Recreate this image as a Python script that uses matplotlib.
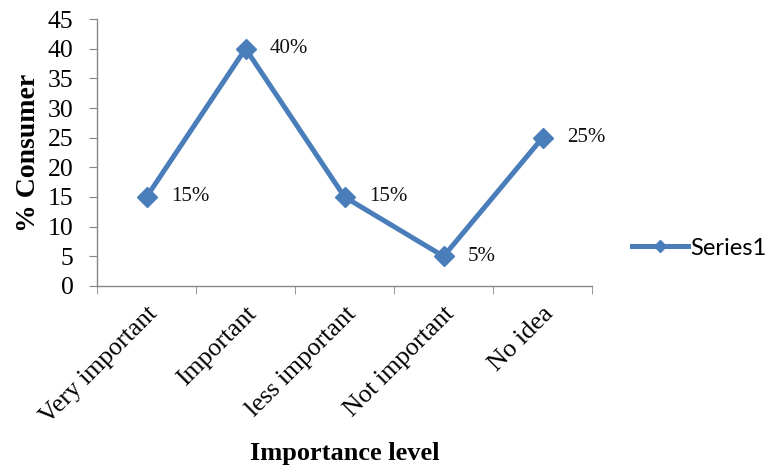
import matplotlib
matplotlib.use("Agg")
import matplotlib.pyplot as plt
from matplotlib.ticker import FixedLocator, MultipleLocator

categories = ["Very important", "Important", "less important", "Not important", "No idea"]
consumer_pct = [15, 40, 15, 5, 25]
value_labels = ["15%", "40%", "15%", "5%", "25%"]
series_name = "Series1"

line_color = "#4A7EBB"
axis_color = "#868686"
serif = ["Liberation Serif", "DejaVu Serif"]

fig = plt.figure(figsize=(7.7, 4.67), dpi=100)
ax = fig.add_axes([0.126, 0.3876, 0.643, 0.5717])

x = list(range(len(categories)))
ax.plot(x, consumer_pct, color=line_color, lw=3.6, marker="D", ms=10.5,
        mec=line_color, mfc=line_color, label=series_name)

for xi, yi, lab in zip(x, consumer_pct, value_labels):
    ax.annotate(lab, (xi, yi), xytext=(17.5, 0), textcoords="offset points",
                va="center", ha="left", fontsize=15, family=serif, color="#111111")

ax.set_xlim(-0.5, len(categories) - 0.5)
ax.set_ylim(0, 45)
ax.yaxis.set_major_locator(MultipleLocator(5))
ax.set_xticks(x)
ax.set_xticklabels(categories, rotation=45, ha="right", rotation_mode="anchor",
                   family=serif, fontsize=18.5)
ax.xaxis.set_minor_locator(FixedLocator([i - 0.5 for i in range(len(categories) + 1)]))
ax.tick_params(axis="x", which="major", length=0, pad=12)
ax.tick_params(axis="x", which="minor", length=6, direction="out", color=axis_color)
ax.tick_params(axis="y", length=6, direction="out", color=axis_color, pad=11)
for t in ax.get_yticklabels():
    t.set_family(serif)
    t.set_fontsize(18.5)

for side in ("top", "right"):
    ax.spines[side].set_visible(False)
for side in ("left", "bottom"):
    ax.spines[side].set_color(axis_color)
    ax.spines[side].set_linewidth(1.0)

ax.set_ylabel("% Consumer", family=serif, fontsize=20, fontweight="bold", labelpad=4.5)
ax.set_xlabel("Importance level", family=serif, fontsize=19, fontweight="bold", labelpad=10)

ax.legend(loc="center left", bbox_to_anchor=(1.081, 0.142), frameon=False,
          borderaxespad=0, borderpad=0,
          prop={"family": ["Lato", "DejaVu Sans"], "size": 17},
          handlelength=2.37, handletextpad=0.1, markerscale=0.6)

fig.savefig("out.png", dpi=100)
